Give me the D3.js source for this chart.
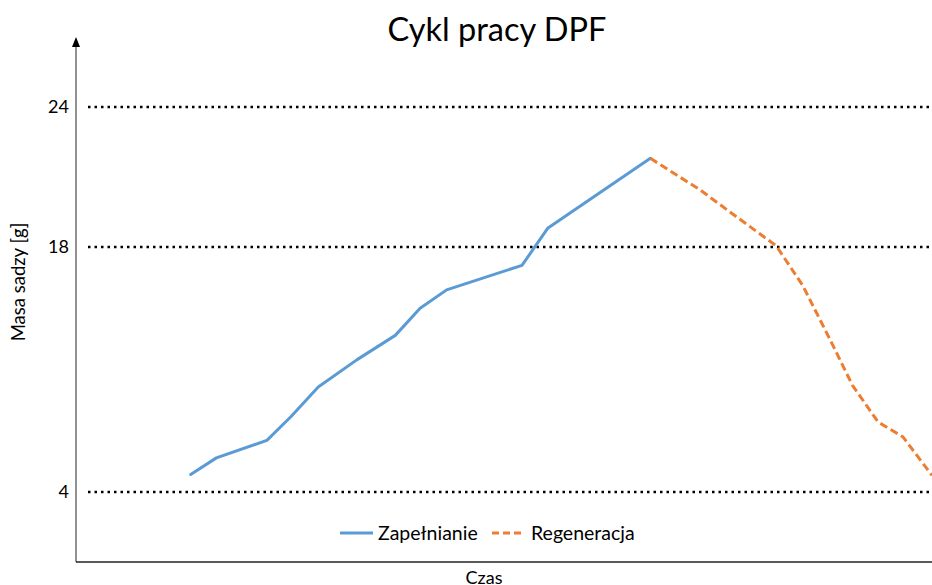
<!DOCTYPE html>
<meta charset="utf-8">
<script src="https://cdn.jsdelivr.net/npm/d3@7"></script>
<style>
body{margin:0;background:#fff;}
text{font-family:"Lato","Open Sans",sans-serif;fill:#000;}
.grid{stroke:#000;stroke-width:2.5;stroke-dasharray:2.5,4;}
</style>
<body>
<div id="chart"></div>
<script>
// y tick labels (scale is not even between them)
var yTicks = [4, 18, 24]
// czas (arbitrary units), masa sadzy [g]
var fillTime = [13.4, 16.4, 22.3, 25.1, 28.3, 32.8, 37.3, 40.2, 43.3, 52.1, 55.1, 67.1]
var fillMass = [5.0, 5.95, 6.95, 8.3, 10.0, 11.55, 12.95, 14.5, 15.55, 16.95, 18.8, 21.8]
var regenTime = [67.1, 72.9, 76.4, 81.8, 84.9, 88.1, 90.7, 93.7, 96.6, 100]
var regenMass = [21.8, 20.45, 19.5, 18.05, 15.8, 12.7, 10.1, 8.0, 7.15, 4.95]
var legendNames = ["Zapełnianie", "Regeneracja"]

var fill = fillTime.map(function(t, i){ return {t: t, m: fillMass[i]} })
var regen = regenTime.map(function(t, i){ return {t: t, m: regenMass[i]} })

width = 932
height = 585
axisX = 76
axisY = 562

svg = d3.select("#chart").append("svg")
    .attr("width", width)
    .attr("height", height)

xScale = d3.scaleLinear().domain([0, 100]).range([axisX, 932])
yScale = d3.scaleLinear().domain([0, 4, 18, 24]).range([axisY, 492, 247, 107])

svg.append("text")
    .attr("x", 497)
    .attr("y", 41)
    .attr("text-anchor", "middle")
    .style("font-size", "32.5px")
    .text("Cykl pracy DPF")

// dotted lines
svg.append("g").selectAll("line")
    .data(yTicks)
    .enter().append("line")
    .attr("class", "grid")
    .attr("x1", 88).attr("x2", width)
    .attr("y1", function(d){ return yScale(d) })
    .attr("y2", function(d){ return yScale(d) })

yAxis = d3.axisLeft(yScale).tickValues(yTicks).tickSize(0).tickPadding(7)
yG = svg.append("g")
    .attr("transform", "translate(" + axisX + ",0)")
    .call(yAxis)
yG.select("path").remove()
yG.selectAll("text")
    .style("font-family", "Lato, sans-serif")
    .style("font-size", "18px")
    .attr("fill", "#222")

// axes lines
svg.append("line")
    .attr("x1", axisX).attr("x2", axisX)
    .attr("y1", 46).attr("y2", axisY)
    .attr("stroke", "#555").attr("stroke-width", 1.3)
svg.append("path")
    .attr("d", "M" + axisX + ",37 L" + (axisX - 4) + ",47 L" + (axisX + 4) + ",47 Z")
    .attr("fill", "#000")
svg.append("line")
    .attr("x1", axisX).attr("x2", width)
    .attr("y1", axisY).attr("y2", axisY)
    .attr("stroke", "#222").attr("stroke-width", 1.3)

line = d3.line()
    .x(function(d){ return xScale(d.t) })
    .y(function(d){ return yScale(d.m) })

svg.append("path")
    .datum(fill)
    .attr("d", line)
    .attr("fill", "none")
    .attr("stroke", "#5B9BD5")
    .attr("stroke-width", 3)
    .attr("stroke-linejoin", "round")
    .attr("stroke-linecap", "round")

svg.append("path")
    .datum(regen)
    .attr("d", line)
    .attr("fill", "none")
    .attr("stroke", "#ED7D31")
    .attr("stroke-width", 3)
    .attr("stroke-dasharray", "8,4")

// axis titles
svg.append("text")
    .attr("transform", "translate(25,282) rotate(-90)")
    .attr("text-anchor", "middle")
    .style("font-size", "18.5px")
    .text("Masa sadzy [g]")
svg.append("text")
    .attr("x", 484)
    .attr("y", 584)
    .attr("text-anchor", "middle")
    .style("font-size", "18px")
    .text("Czas")

// legend
legend = svg.append("g")
legend.append("line")
    .attr("x1", 340).attr("x2", 373).attr("y1", 533).attr("y2", 533)
    .attr("stroke", "#5B9BD5").attr("stroke-width", 3)
legend.append("text")
    .attr("x", 378).attr("y", 539.5)
    .style("font-size", "19.5px")
    .text(legendNames[0])
legend.append("line")
    .attr("x1", 492).attr("x2", 525).attr("y1", 533).attr("y2", 533)
    .attr("stroke", "#ED7D31").attr("stroke-width", 3)
    .attr("stroke-dasharray", "7,4")
legend.append("text")
    .attr("x", 531).attr("y", 539.5)
    .style("font-size", "19.5px")
    .text(legendNames[1])
</script>
</body>
</html>
